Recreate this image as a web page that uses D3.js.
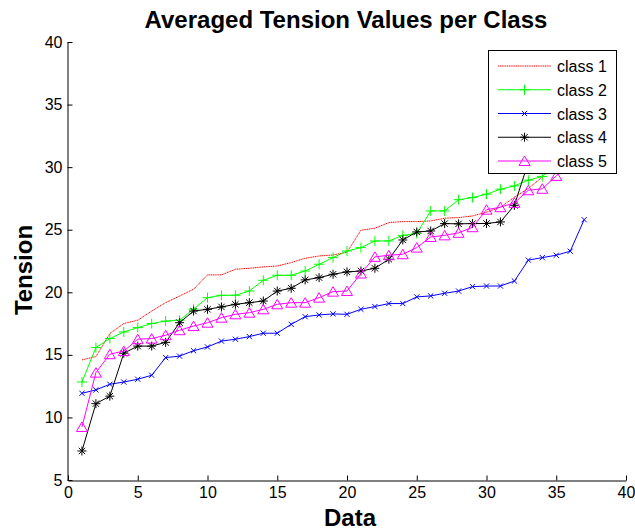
<!DOCTYPE html>
<html>
<head>
<meta charset="utf-8">
<script src="https://cdn.jsdelivr.net/npm/d3@7"></script>
<style>
	body { margin: 0; background: #fff; }
	text { font-family: 'Liberation Sans', Arial, sans-serif; }
</style>
</head>
<body>
<div id="chart"></div>
<script>
const xTicks = [0, 5, 10, 15, 20, 25, 30, 35, 40]
const yTicks = [5, 10, 15, 20, 25, 30, 35, 40]
const classNames = ['class 1', 'class 2', 'class 3', 'class 4', 'class 5']

// averaged tension per class, sorted
const class1 = [14.6, 14.86, 16.7, 17.5, 17.77, 18.5, 19.17, 19.7, 20.24, 21.39, 21.39, 21.84, 21.92, 22.03, 22.1, 22.37, 22.72, 22.9, 22.98, 23.2, 24.96, 25.12, 25.57, 25.65, 25.65, 25.7, 25.92, 25.97, 26.1, 26.4, 26.8, 27.6, 28.3, 29.2, 30.5, 31.5]
const class2 = [12.83, 15.58, 16.3, 16.83, 17.18, 17.5, 17.7, 17.77, 18.65, 19.57, 19.76, 19.76, 20.1, 20.96, 21.36, 21.36, 21.7, 22.24, 22.77, 23.3, 23.57, 24.1, 24.1, 24.55, 24.7, 26.5, 26.5, 27.4, 27.57, 27.84, 28.24, 28.5, 28.96, 29.25, 30.3, 31.2]
const class3 = [11.93, 12.2, 12.65, 12.83, 13.05, 13.37, 14.78, 14.9, 15.33, 15.63, 16.1, 16.25, 16.46, 16.73, 16.73, 17.44, 18.05, 18.19, 18.27, 18.24, 18.64, 18.86, 19.1, 19.1, 19.63, 19.71, 19.92, 20.1, 20.45, 20.5, 20.5, 20.9, 22.57, 22.77, 22.96, 23.28, 25.8]
const class4 = [7.32, 11.1, 11.7, 15.13, 15.7, 15.7, 16.0, 17.57, 18.5, 18.64, 18.83, 19.04, 19.17, 19.3, 20.1, 20.32, 20.99, 21.17, 21.44, 21.63, 21.7, 21.92, 22.64, 24.18, 24.82, 24.9, 25.49, 25.47, 25.49, 25.5, 25.62, 26.95, 30.4, 31.5, 32.5, 33.5]
const class5 = [9.24, 13.58, 15.05, 15.3, 16.25, 16.3, 16.57, 16.97, 17.3, 17.57, 17.97, 18.24, 18.37, 18.64, 19.04, 19.17, 19.17, 19.57, 20.05, 20.1, 21.5, 22.83, 22.96, 23.04, 23.57, 24.42, 24.55, 24.75, 25.2, 26.6, 26.8, 27.15, 28.15, 28.27, 29.3, 30.4]

const width = 635
const height = 532
const plotLeft = 68
const plotRight = 626
const plotTop = 42
const plotBottom = 480

const series = [
	{ name: classNames[0], values: class1, color: '#ff0000', marker: 'none', dash: '1.2,0.6' },
	{ name: classNames[1], values: class2, color: '#00ff00', marker: 'plus' },
	{ name: classNames[2], values: class3, color: '#0000ff', marker: 'cross' },
	{ name: classNames[3], values: class4, color: '#000000', marker: 'star' },
	{ name: classNames[4], values: class5, color: '#ff00ff', marker: 'triangle' }
]

function markerPath(type) {
	if (type === 'plus') {
		return 'M-5,0H5M0,-5V5'
	} else if (type === 'cross') {
		return 'M-2.6,-2.6L2.6,2.6M-2.6,2.6L2.6,-2.6'
	} else if (type === 'star') {
		return 'M-4.5,0H4.5M0,-4.5V4.5M-3.2,-3.2L3.2,3.2M-3.2,3.2L3.2,-3.2'
	} else if (type === 'triangle') {
		return 'M0,-5L5.5,4.5H-5.5Z'
	}
	return ''
}

const x = d3.scaleLinear().domain([0, 40]).range([plotLeft, plotRight])
const y = d3.scaleLinear().domain([5, 40]).range([plotBottom, plotTop])

const svg = d3
	.select('#chart')
	.append('svg')
	.attr('width', width)
	.attr('height', height)

svg.append('rect')
	.attr('width', width)
	.attr('height', height)
	.attr('fill', '#fff')

const line = d3
	.line()
	.x((d, i) => x(i + 1))
	.y(d => y(d))

const plot = svg.append('g')

series.forEach(s => {
	plot.append('path')
		.datum(s.values)
		.attr('d', line)
		.attr('fill', 'none')
		.attr('stroke', s.color)
		.attr('stroke-width', 1)
		.attr('stroke-dasharray', s.dash || null)

	if (s.marker !== 'none') {
		plot.selectAll(null)
			.data(s.values)
			.enter()
			.append('path')
			.attr('transform', (d, i) => `translate(${x(i + 1)},${y(d)})`)
			.attr('d', markerPath(s.marker))
			.attr('fill', 'none')
			.attr('stroke', s.color)
			.attr('stroke-width', 1)
	}
})

svg.append('g')
	.attr('transform', `translate(0,${plotBottom + 0.5})`)
	.call(
		d3.axisBottom(x)
			.tickValues(xTicks)
			.tickSizeInner(-5)
			.tickSizeOuter(0)
			.tickPadding(6)
	)

svg.append('g')
	.attr('transform', `translate(${plotLeft - 0.5},0)`)
	.call(
		d3.axisLeft(y)
			.tickValues(yTicks)
			.tickSizeInner(-5)
			.tickSizeOuter(0)
			.tickPadding(5)
	)

svg.selectAll('.tick text')
	.attr('font-family', "'Liberation Sans', Arial, sans-serif")
	.attr('font-size', 16)
	.attr('fill', '#000')
svg.selectAll('.domain, .tick line').attr('stroke', '#000')

svg.append('text')
	.attr('x', 346)
	.attr('y', 28)
	.attr('text-anchor', 'middle')
	.attr('font-size', 24)
	.attr('font-weight', 'bold')
	.text('Averaged Tension Values per Class')

svg.append('text')
	.attr('x', 350)
	.attr('y', 526)
	.attr('text-anchor', 'middle')
	.attr('font-size', 24)
	.attr('font-weight', 'bold')
	.text('Data')

svg.append('text')
	.attr('transform', 'translate(32,270) rotate(-90)')
	.attr('text-anchor', 'middle')
	.attr('font-size', 24)
	.attr('font-weight', 'bold')
	.text('Tension')

// legend
const legend = svg.append('g')
legend.append('rect')
	.attr('x', 488.5)
	.attr('y', 50.5)
	.attr('width', 128)
	.attr('height', 123)
	.attr('fill', '#fff')
	.attr('stroke', '#000')
	.attr('stroke-width', 1)

const rows = legend.selectAll('g.row')
	.data(series)
	.enter()
	.append('g')
	.attr('class', 'row')
	.attr('transform', (d, i) => `translate(0,${66 + i * 23.75})`)

rows.append('line')
	.attr('x1', 498)
	.attr('x2', 551)
	.attr('stroke', d => d.color)
	.attr('stroke-dasharray', d => d.dash || null)

rows.append('path')
	.attr('transform', 'translate(524.5,0)')
	.attr('d', d => markerPath(d.marker))
	.attr('fill', 'none')
	.attr('stroke', d => d.color)

rows.append('text')
	.attr('x', 557)
	.attr('y', 6)
	.attr('font-size', 16)
	.text(d => d.name)
</script>
</body>
</html>
